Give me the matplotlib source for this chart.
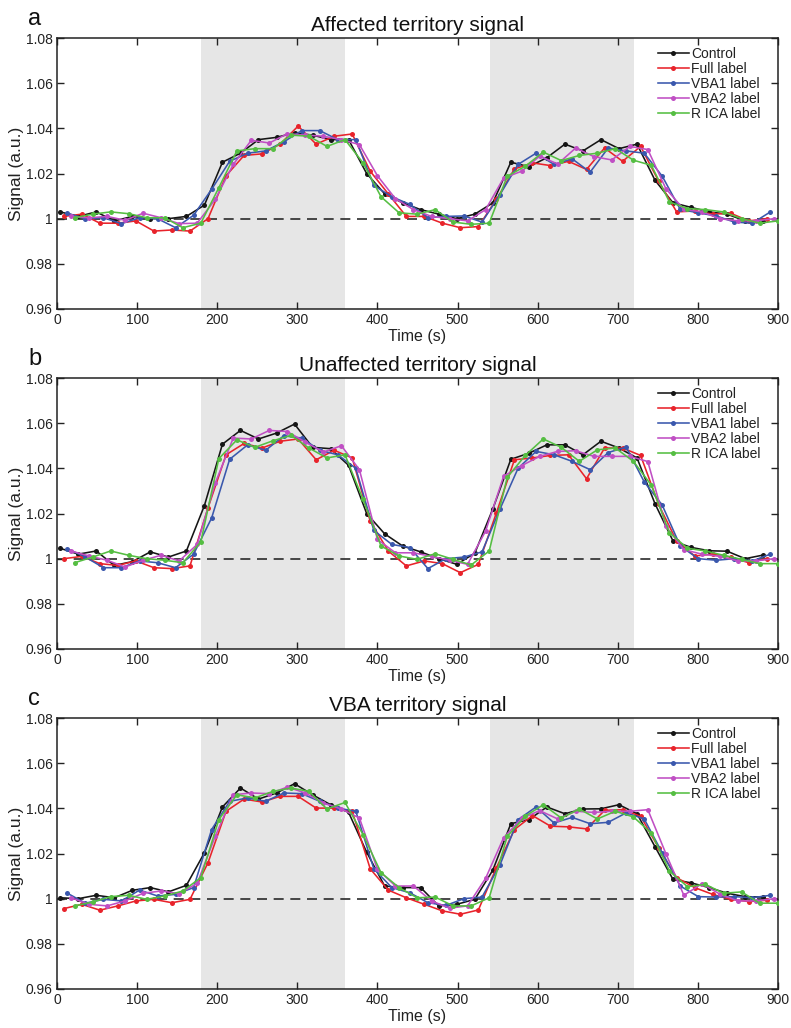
import numpy as np
import matplotlib
matplotlib.use("Agg")
import matplotlib.pyplot as plt

plt.rcParams['font.family'] = ['Liberation Sans', 'DejaVu Sans']

# ---------------- data ----------------
series_names = ["Control", "Full label", "VBA1 label", "VBA2 label", "R ICA label"]
series_colors = ["#151515", "#e8232b", "#3a58ad", "#c04fc4", "#55be42"]
time_offsets = [4.0, 8.5, 13.0, 17.5, 22.0]   # s, start of each label's sampling
sample_interval = 22.5                         # s
n_samples = 40
stim_blocks = [(180, 360), (540, 720)]
panel_letters = ["a", "b", "c"]
panel_titles = ["Affected territory signal", "Unaffected territory signal", "VBA territory signal"]
xticks = [0, 100, 200, 300, 400, 500, 600, 700, 800, 900]
yticks = [0.96, 0.98, 1.0, 1.02, 1.04, 1.06, 1.08]
ytick_labels = ["0.96", "0.98", "1", "1.02", "1.04", "1.06", "1.08"]

# Panel a: affected territory
control_a = [1.003, 1.001, 1.003, 0.999, 1.001, 1.000, 1.000, 1.001, 1.006, 1.025,
             1.029, 1.035, 1.036, 1.038, 1.037, 1.035, 1.035, 1.020, 1.011, 1.007,
             1.004, 1.002, 1.000, 1.002, 1.007, 1.025, 1.023, 1.027, 1.033, 1.030,
             1.035, 1.031, 1.033, 1.017, 1.007, 1.005, 1.003, 1.002, 0.999, 0.999]
full_a = [1.001, 1.002, 0.998, 0.998, 0.999, 0.9945, 0.995, 0.9945, 1.000, 1.019,
          1.028, 1.0287, 1.033, 1.041, 1.033, 1.0365, 1.0375, 1.021, 1.011, 1.001,
          1.001, 0.998, 0.996, 0.9965, 1.0085, 1.022, 1.0247, 1.0235, 1.0254, 1.0218,
          1.0313, 1.0254, 1.032, 1.0166, 1.003, 1.0034, 1.002, 1.0024, 0.999, 1.000]
vba1_a = [1.0024, 1.000, 1.0004, 0.9978, 1.0004, 1.000, 0.996, 1.0015, 1.013, 1.0254,
          1.029, 1.030, 1.034, 1.039, 1.039, 1.035, 1.035, 1.0147, 1.0097, 1.0063,
          1.0004, 1.001, 1.0012, 0.9985, 1.0107, 1.024, 1.029, 1.024, 1.0265, 1.0206,
          1.0313, 1.030, 1.029, 1.0188, 1.0041, 1.0026, 1.0012, 0.9985, 0.998, 1.003]
vba2_a = [1.001, 1.0004, 1.001, 0.9993, 1.0024, 1.0004, 0.9978, 0.998, 1.0085, 1.024,
          1.0347, 1.0335, 1.0376, 1.037, 1.0365, 1.035, 1.0328, 1.019, 1.0088, 1.004,
          1.001, 1.000, 0.999, 1.004, 1.018, 1.021, 1.0277, 1.0242, 1.0313, 1.0275,
          1.026, 1.032, 1.0306, 1.0133, 1.0041, 1.003, 1.000, 0.999, 0.999, 1.000]
rica_a = [1.0004, 1.002, 1.003, 1.0022, 1.0004, 1.0004, 0.996, 0.998, 1.0137, 1.030,
          1.031, 1.031, 1.037, 1.0365, 1.032, 1.035, 1.0247, 1.0097, 1.0026, 1.002,
          1.004, 0.9985, 0.9975, 0.998, 1.0188, 1.0232, 1.0295, 1.0257, 1.028, 1.029,
          1.031, 1.0259, 1.0236, 1.0074, 1.0045, 1.004, 1.003, 1.000, 0.998, 0.999]

# Panel b: unaffected territory
control_b = [1.0046, 1.002, 1.0034, 0.997, 0.9987, 1.003, 1.0007, 1.0034, 1.0235, 1.0507,
             1.0568, 1.053, 1.0556, 1.0596, 1.0493, 1.0487, 1.0413, 1.020, 1.011, 1.0056,
             1.003, 1.000, 0.9975, 1.0024, 1.022, 1.044, 1.0467, 1.0504, 1.0504, 1.046,
             1.052, 1.049, 1.0446, 1.0243, 1.0078, 1.005, 1.0035, 1.0033, 1.000, 1.0016]
full_b = [1.000, 1.001, 0.9978, 0.997, 0.999, 0.996, 0.9956, 0.9968, 1.0225, 1.046,
          1.051, 1.049, 1.052, 1.053, 1.0438, 1.048, 1.0446, 1.0166, 1.0034, 0.9968,
          0.999, 0.9978, 0.9938, 0.9975, 1.0203, 1.0438, 1.0446, 1.0457, 1.046, 1.0354,
          1.049, 1.049, 1.0457, 1.024, 1.0078, 1.0012, 1.002, 1.0007, 0.9982, 1.000]
vba1_b = [1.0044, 1.0007, 0.996, 0.996, 0.999, 0.9982, 0.996, 1.002, 1.018, 1.044,
          1.0504, 1.048, 1.0544, 1.0534, 1.048, 1.046, 1.040, 1.0125, 1.0063, 1.0049,
          0.9956, 1.000, 1.0007, 1.003, 1.022, 1.040, 1.0475, 1.046, 1.0431, 1.0394,
          1.047, 1.0494, 1.034, 1.0237, 1.0056, 1.000, 0.9993, 1.000, 0.999, 1.002]
vba2_b = [1.0034, 1.0012, 0.9993, 0.9963, 0.9993, 1.0015, 0.999, 1.0063, 1.0335, 1.0534,
          1.053, 1.0568, 1.0563, 1.0516, 1.0472, 1.050, 1.0394, 1.0085, 1.0026, 1.0026,
          1.001, 0.9993, 0.9975, 1.0122, 1.0365, 1.0412, 1.0453, 1.0475, 1.0478, 1.0453,
          1.0453, 1.0453, 1.043, 1.0144, 1.004, 1.002, 1.001, 0.999, 0.999, 1.000]
rica_b = [0.9982, 1.0007, 1.0034, 1.0015, 1.000, 0.9993, 0.9982, 1.0074, 1.0443, 1.0526,
          1.0493, 1.0522, 1.0546, 1.049, 1.0446, 1.046, 1.0262, 1.0056, 1.0012, 0.9997,
          1.0022, 0.9997, 0.9972, 1.0034, 1.036, 1.0457, 1.053, 1.0493, 1.0431, 1.0482,
          1.049, 1.0431, 1.0325, 1.0115, 1.0046, 1.0034, 1.0015, 0.9997, 0.9978, 0.9978]

# Panel c: VBA territory
control_c = [1.0004, 1.000, 1.0015, 1.0004, 1.0037, 1.0049, 1.003, 1.0059, 1.0203, 1.0406,
             1.049, 1.0441, 1.0468, 1.0509, 1.046, 1.0416, 1.0382, 1.0206, 1.0056, 1.0049,
             1.0049, 0.9968, 0.9975, 0.9997, 1.0126, 1.0332, 1.035, 1.0406, 1.0376, 1.0397,
             1.0398, 1.0416, 1.0376, 1.023, 1.0085, 1.007, 1.0049, 1.0024, 1.0009, 1.0007]
full_c = [0.9956, 0.9975, 0.9949, 0.9968, 0.999, 0.9997, 0.9982, 0.9997, 1.0159, 1.0387,
          1.0441, 1.0428, 1.0453, 1.0453, 1.0401, 1.0401, 1.0387, 1.0132, 1.0038, 1.0004,
          0.9975, 0.9946, 0.9931, 0.995, 1.0137, 1.0306, 1.0368, 1.0321, 1.0318, 1.0309,
          1.0391, 1.0394, 1.0365, 1.0225, 1.0093, 1.0049, 1.0019, 0.9997, 0.9987, 0.9993]
vba1_c = [1.0024, 0.998, 0.9997, 0.999, 1.0038, 1.0012, 1.0019, 1.0049, 1.0306, 1.0431,
          1.0446, 1.0431, 1.0468, 1.0465, 1.0431, 1.0401, 1.0387, 1.0132, 1.0049, 1.0026,
          0.9982, 0.997, 1.000, 1.0007, 1.015, 1.035, 1.0406, 1.0335, 1.036, 1.0332,
          1.0338, 1.038, 1.0353, 1.0203, 1.0056, 1.0009, 1.0007, 1.0009, 1.0004, 1.0015]
vba2_c = [1.0004, 0.9975, 0.9968, 0.999, 1.0024, 1.0034, 1.0022, 1.0068, 1.0276, 1.046,
          1.0468, 1.0465, 1.0494, 1.0468, 1.0424, 1.0397, 1.0357, 1.013, 1.0056, 1.0056,
          0.999, 0.9958, 0.9968, 1.009, 1.027, 1.0355, 1.039, 1.0353, 1.0387, 1.0382,
          1.0387, 1.0387, 1.0394, 1.020, 1.0015, 1.0066, 1.002, 0.999, 0.999, 1.000]
rica_c = [0.9968, 0.9985, 1.0009, 1.0015, 0.9997, 1.0012, 1.0034, 1.0093, 1.035, 1.046,
          1.0446, 1.0475, 1.049, 1.0475, 1.0397, 1.0426, 1.0284, 1.0115, 1.0049, 1.0004,
          1.0007, 0.9968, 0.9968, 1.0004, 1.0276, 1.0365, 1.0416, 1.0357, 1.0397, 1.0353,
          1.0387, 1.0362, 1.029, 1.0122, 1.0053, 1.0063, 1.0024, 1.003, 0.998, 0.998]

panels = [
    [control_a, full_a, vba1_a, vba2_a, rica_a],
    [control_b, full_b, vba1_b, vba2_b, rica_b],
    [control_c, full_c, vba1_c, vba2_c, rica_c],
]

# ---------------- figure ----------------
W, H = 791, 1028
fig = plt.figure(figsize=(W / 100, H / 100), dpi=100)

ax_left, ax_right = 57, 778
ax_tops = [38, 378, 718]
ax_h = 271

for i, (series, letter, title) in enumerate(zip(panels, panel_letters, panel_titles)):
    top = ax_tops[i]
    ax = fig.add_axes([ax_left / W, 1 - (top + ax_h) / H, (ax_right - ax_left) / W, ax_h / H])
    for (x0, x1) in stim_blocks:
        ax.axvspan(x0, x1, color="#e6e6e6", lw=0, zorder=0)
    ax.axhline(1.0, color="#2a2a2a", lw=1.2, dashes=(6, 4), zorder=1)
    for vals, name, col, off in zip(series, series_names, series_colors, time_offsets):
        t = off + sample_interval * np.arange(n_samples)
        ax.plot(t, vals, '-o', color=col, lw=1.15, ms=3.6, mew=0, label=name, zorder=3)
    ax.set_xlim(0, 900)
    ax.set_ylim(0.96, 1.08)
    ax.set_xticks(xticks)
    ax.set_yticks(yticks)
    ax.set_yticklabels(ytick_labels)
    ax.tick_params(direction="in", top=True, right=True, length=5, width=1.0,
                   labelsize=10, pad=3, colors="#222222")
    for sp in ax.spines.values():
        sp.set_linewidth(1.1)
        sp.set_color("#222222")
    ax.set_xlabel("Time (s)", fontsize=11.5, labelpad=1, color="#222222")
    ax.set_ylabel("Signal (a.u.)", fontsize=12.5, labelpad=1, color="#222222")
    ax.set_title(title, fontsize=15, pad=5, color="#111111")
    fig.text(28 / W, 1 - (top - 13) / H, letter, fontsize=17, color="#111111",
             ha="left", va="baseline")
    leg = ax.legend(loc="upper left", bbox_to_anchor=(0.8336, 0.966), frameon=False,
                    fontsize=10, handlelength=2.2, handletextpad=0.2,
                    labelspacing=0.06, borderpad=0, borderaxespad=0)
    for txt in leg.get_texts():
        txt.set_color("#222222")

fig.savefig("out.png", dpi=100)
